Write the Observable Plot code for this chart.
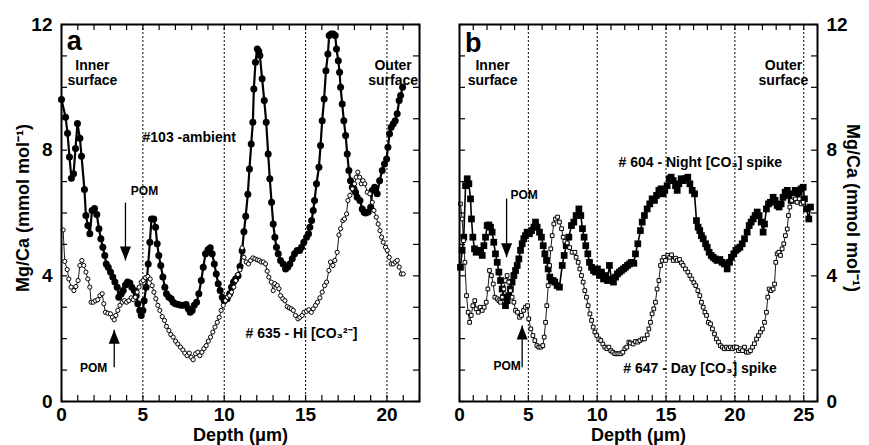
<!DOCTYPE html>
<html>
<head>
<meta charset="utf-8">
<script src="https://cdn.jsdelivr.net/npm/d3@7"></script>
<script src="https://cdn.jsdelivr.net/npm/@observablehq/plot@0.6"></script>
<style>
  html, body { margin: 0; padding: 0; background: #fff; }
  #chart { display: flex; width: 869px; height: 445px; }
</style>
</head>
<body>
<div id="chart"></div>
<script>
// ---------- Panel a: #103 ambient (filled circles) ----------
const depthA103 = [0.00,0.25,0.37,0.49,0.61,0.74,0.86,0.98,1.13,1.23,1.41,1.50,1.62,1.74,1.88,2.03,2.17,2.30,2.42,2.54,2.66,2.75,2.87,3.01,3.15,3.28,3.42,3.52,3.67,3.79,3.93,4.06,4.20,4.32,4.47,4.59,4.69,4.81,4.90,5.00,5.08,5.20,5.33,5.43,5.53,5.67,5.78,5.88,5.98,6.10,6.23,6.35,6.45,6.60,6.74,6.86,7.00,7.17,7.33,7.50,7.66,7.79,7.91,8.03,8.16,8.30,8.44,8.59,8.71,8.85,9.00,9.14,9.26,9.39,9.51,9.63,9.75,9.88,10.00,10.18,10.33,10.45,10.57,10.70,10.85,10.97,11.10,11.21,11.32,11.45,11.55,11.66,11.76,11.82,11.92,12.03,12.12,12.19,12.33,12.46,12.58,12.70,12.80,12.91,13.01,13.11,13.21,13.32,13.46,13.62,13.77,13.91,14.03,14.18,14.32,14.48,14.63,14.75,14.89,15.06,15.18,15.26,15.37,15.47,15.55,15.67,15.82,15.92,16.02,16.14,16.25,16.37,16.45,16.57,16.70,16.82,16.90,17.01,17.09,17.15,17.25,17.35,17.46,17.56,17.66,17.76,17.87,17.97,18.07,18.17,18.34,18.48,18.60,18.69,18.85,19.00,19.10,19.24,19.40,19.55,19.71,19.85,19.98,20.06,20.16,20.26,20.39,20.51,20.63,20.75,20.84,20.96];
const mgcaA103 = [9.61,9.05,8.54,7.78,7.11,7.25,8.05,8.85,8.38,7.81,6.75,5.92,5.60,5.34,6.08,6.14,5.95,5.50,5.18,4.91,4.65,4.38,4.27,4.12,3.96,3.80,3.64,3.32,3.43,3.53,3.71,3.80,3.77,3.64,3.53,3.37,3.11,2.90,2.74,2.90,3.21,3.64,4.38,5.07,5.81,5.81,5.55,5.02,4.65,4.33,3.96,3.64,3.43,3.32,3.27,3.16,3.11,3.09,3.06,3.06,3.09,2.95,2.84,2.90,3.06,3.16,3.43,3.85,4.27,4.70,4.83,4.89,4.70,4.38,4.06,3.75,3.53,3.32,3.21,3.27,3.43,3.64,3.80,3.90,4.00,4.30,4.80,5.40,5.90,6.60,7.40,8.20,8.89,9.95,10.80,11.22,11.15,11.01,10.27,9.58,8.89,7.88,7.09,6.34,5.65,5.23,4.91,4.70,4.49,4.38,4.22,4.28,4.38,4.54,4.70,4.81,4.81,4.91,5.07,5.23,5.34,5.55,5.76,6.08,6.40,6.93,7.46,8.15,8.94,9.63,10.53,11.06,11.65,11.70,11.70,11.65,11.22,10.85,10.48,10.00,9.47,8.94,8.47,7.88,7.35,7.03,6.82,6.77,6.66,6.50,6.40,6.13,6.02,6.00,6.03,6.18,6.72,6.82,6.61,7.03,7.35,7.56,7.72,8.09,8.52,8.73,8.84,8.94,9.16,9.58,9.74,10.00];

// ---------- Panel a: #635 Hi [CO3 2-] (open circles) ----------
const depthA635 = [0.10,0.20,0.35,0.45,0.59,0.76,0.88,1.02,1.13,1.25,1.37,1.50,1.62,1.74,1.82,1.95,2.09,2.23,2.36,2.50,2.60,2.70,2.85,3.01,3.13,3.24,3.34,3.46,3.59,3.73,3.87,4.00,4.14,4.28,4.41,4.53,4.65,4.77,4.90,5.02,5.16,5.31,5.45,5.57,5.68,5.80,5.92,6.04,6.19,6.33,6.45,6.60,6.72,6.86,7.01,7.15,7.31,7.46,7.58,7.72,7.85,7.97,8.09,8.24,8.38,8.50,8.63,8.75,8.89,9.02,9.16,9.30,9.43,9.57,9.69,9.81,9.94,10.08,10.20,10.33,10.45,10.59,10.71,10.84,10.96,11.10,11.21,11.35,11.49,11.62,11.76,11.89,12.03,12.15,12.27,12.40,12.54,12.64,12.74,12.89,13.01,13.11,13.26,13.36,13.46,13.60,13.73,13.87,14.00,14.12,14.24,14.38,14.53,14.65,14.79,14.91,15.06,15.20,15.35,15.47,15.61,15.73,15.88,16.02,16.17,16.29,16.43,16.53,16.68,16.80,16.94,17.05,17.15,17.29,17.39,17.52,17.60,17.72,17.87,18.01,18.11,18.21,18.32,18.42,18.52,18.64,18.79,18.95,19.10,19.20,19.34,19.46,19.57,19.67,19.77,19.91,20.02,20.14,20.26,20.39,20.51,20.63,20.75,20.88,21.00];
const mgcaA635 = [5.46,4.46,4.20,3.90,3.64,3.53,3.66,3.85,4.33,4.49,4.33,4.12,3.90,3.64,3.16,3.16,3.21,3.24,3.37,3.43,3.11,2.84,2.81,2.79,2.68,2.60,2.74,2.90,3.06,3.16,3.21,3.16,3.21,3.30,3.24,3.32,3.48,3.64,3.80,3.85,3.94,3.98,3.90,3.69,3.48,3.27,3.06,2.90,2.70,2.58,2.39,2.26,2.13,2.05,1.92,1.83,1.73,1.64,1.54,1.46,1.54,1.41,1.33,1.52,1.57,1.46,1.57,1.68,1.78,1.92,2.05,2.21,2.37,2.52,2.68,2.90,3.06,3.21,3.32,3.37,3.48,3.64,3.85,4.04,4.19,4.89,4.59,4.44,4.38,4.49,4.57,4.54,4.51,4.49,4.44,4.44,4.38,4.15,3.96,3.80,3.53,3.75,3.69,3.59,3.37,3.27,3.21,3.02,2.98,2.95,2.90,2.74,2.63,2.68,2.74,2.84,2.87,2.92,2.84,2.95,3.06,3.16,3.30,3.48,3.69,3.80,4.17,4.44,4.33,4.49,4.75,5.30,5.50,5.76,5.81,5.97,6.40,6.56,6.77,6.93,7.14,7.30,7.14,6.93,7.03,6.93,6.66,6.61,6.34,6.08,5.87,5.65,5.44,5.23,5.07,4.91,4.81,4.59,4.38,4.38,4.44,4.49,4.28,4.06,4.06];

// ---------- Panel b: #604 Night [CO3] spike (filled squares) ----------
const depthB604 = [0.07,0.19,0.31,0.44,0.56,0.68,0.80,0.87,0.97,1.09,1.21,1.36,1.52,1.65,1.77,1.89,2.01,2.13,2.25,2.37,2.49,2.61,2.74,2.86,2.98,3.10,3.22,3.34,3.46,3.58,3.70,3.82,3.95,4.07,4.19,4.31,4.43,4.55,4.67,4.79,4.91,5.08,5.23,5.40,5.52,5.64,5.81,5.95,6.08,6.20,6.32,6.44,6.56,6.68,6.80,6.92,7.09,7.26,7.46,7.60,7.75,7.94,8.13,8.30,8.47,8.67,8.81,8.93,9.05,9.17,9.32,9.44,9.59,9.73,9.88,10.02,10.17,10.31,10.46,10.60,10.75,10.89,11.04,11.18,11.33,11.47,11.62,11.76,11.91,12.05,12.20,12.35,12.49,12.66,12.78,12.95,13.14,13.27,13.43,13.63,13.82,13.99,14.16,14.31,14.48,14.64,14.79,14.91,15.08,15.23,15.37,15.52,15.69,15.81,15.93,16.10,16.24,16.41,16.58,16.73,16.90,17.07,17.21,17.33,17.45,17.57,17.70,17.87,17.99,18.13,18.28,18.42,18.57,18.71,18.91,19.07,19.24,19.44,19.61,19.75,19.92,20.07,20.21,20.36,20.53,20.70,20.89,21.04,21.18,21.33,21.47,21.62,21.76,21.91,22.05,22.15,22.29,22.44,22.58,22.78,22.92,23.07,23.21,23.36,23.50,23.65,23.80,23.94,24.09,24.23,24.38,24.52,24.67,24.81,24.96,25.05,25.20,25.37,25.49];
const mgcaB604 = [4.27,4.81,5.23,6.87,7.09,6.93,6.45,5.81,5.23,4.86,4.75,4.81,4.77,4.65,4.96,5.23,5.60,5.62,5.55,5.39,5.07,4.70,4.43,4.12,3.85,3.58,3.32,3.05,3.21,3.37,3.58,3.80,4.01,4.17,4.33,4.54,4.81,5.02,5.18,5.28,5.39,5.34,5.44,5.55,5.71,5.55,5.39,5.23,4.96,4.70,4.49,4.22,3.96,3.85,3.85,3.80,3.69,3.64,4.33,4.65,4.96,5.23,5.60,5.71,5.92,6.13,5.92,5.50,5.23,4.96,4.70,4.43,4.27,4.17,4.12,4.22,4.01,4.12,3.90,4.01,3.85,4.33,3.90,3.80,3.96,4.06,4.12,4.17,4.22,4.27,4.33,4.38,4.43,4.40,4.70,5.02,5.44,5.71,5.92,6.13,6.29,6.45,6.40,6.56,6.72,6.77,6.61,6.72,6.87,7.09,7.14,7.03,6.87,6.72,6.93,7.09,7.03,7.09,7.14,6.93,6.72,6.61,5.76,5.55,5.44,5.28,5.18,5.02,4.91,4.75,4.65,4.59,4.54,4.49,4.52,4.43,4.38,4.22,4.43,4.59,4.70,4.81,4.86,4.91,5.02,5.18,5.39,5.60,5.71,5.81,5.92,6.03,5.92,5.71,5.39,5.65,6.13,6.29,6.34,6.50,6.40,6.24,6.19,6.29,6.50,6.66,6.72,6.56,6.40,6.61,6.72,6.56,6.66,6.77,6.82,6.45,6.13,5.81,6.19];

// ---------- Panel b: #647 Day [CO3] spike (open squares) ----------
const depthB647 = [0.07,0.19,0.29,0.39,0.51,0.63,0.73,0.85,0.97,1.11,1.21,1.36,1.50,1.65,1.79,1.94,2.06,2.18,2.32,2.45,2.57,2.74,2.86,2.98,3.10,3.22,3.34,3.46,3.58,3.70,3.82,3.95,4.07,4.21,4.36,4.50,4.65,4.79,4.94,5.03,5.18,5.33,5.47,5.62,5.76,5.91,6.05,6.15,6.25,6.34,6.44,6.54,6.63,6.73,6.85,6.97,7.12,7.26,7.41,7.53,7.65,7.82,8.00,8.18,8.38,8.47,8.62,8.74,8.86,8.98,9.10,9.22,9.34,9.47,9.59,9.71,9.83,9.97,10.12,10.26,10.41,10.55,10.70,10.85,10.99,11.13,11.28,11.43,11.57,11.72,11.86,12.01,12.15,12.30,12.42,12.61,12.78,12.95,13.10,13.27,13.43,13.63,13.75,13.87,13.99,14.11,14.23,14.35,14.48,14.60,14.72,14.84,14.96,15.13,15.27,15.40,15.52,15.69,15.81,15.98,16.12,16.24,16.41,16.58,16.73,16.87,17.02,17.16,17.31,17.45,17.57,17.70,17.82,17.94,18.08,18.23,18.37,18.52,18.66,18.81,18.95,19.10,19.24,19.39,19.53,19.68,19.83,19.97,20.12,20.26,20.41,20.55,20.70,20.84,20.99,21.13,21.28,21.42,21.57,21.71,21.86,22.00,22.15,22.29,22.39,22.49,22.63,22.78,22.88,22.97,23.07,23.19,23.31,23.43,23.55,23.67,23.80,23.89,23.99,24.13,24.28,24.40,24.52,24.67,24.81,24.96];
const mgcaB647 = [6.29,5.81,5.12,4.43,3.37,2.84,2.52,2.74,3.05,3.21,2.95,2.84,3.00,2.90,3.00,3.16,3.58,4.17,4.01,3.74,3.32,3.27,3.21,3.16,3.32,3.58,3.85,4.01,3.80,3.53,3.32,3.16,2.90,2.84,2.68,2.74,2.90,3.00,3.05,2.63,2.31,2.10,1.94,1.78,1.73,1.73,1.78,2.05,2.52,3.05,3.69,4.33,4.86,5.28,5.65,5.81,5.87,5.71,5.50,5.23,5.10,5.05,4.90,4.75,4.75,4.59,4.43,4.22,4.01,3.80,3.53,3.32,3.05,2.79,2.58,2.37,2.21,2.10,1.99,1.94,1.83,1.73,1.68,1.73,1.62,1.57,1.52,1.52,1.52,1.52,1.57,1.68,1.73,1.89,1.86,1.83,1.91,1.89,1.94,1.99,1.99,2.12,2.31,2.52,2.79,2.95,3.16,3.58,3.85,4.33,4.49,4.59,4.49,4.65,4.59,4.67,4.49,4.56,4.49,4.52,4.41,4.33,4.22,4.12,4.01,3.90,3.78,3.69,3.53,3.37,3.16,3.00,2.84,2.74,2.52,2.47,2.31,2.15,1.99,1.89,1.78,1.73,1.68,1.73,1.68,1.73,1.68,1.73,1.73,1.62,1.68,1.62,1.73,1.57,1.57,1.62,1.73,1.84,1.99,2.10,2.21,2.31,2.52,2.84,3.32,3.58,3.53,3.58,3.74,4.43,4.70,4.75,4.65,4.86,5.02,5.28,5.49,5.92,6.19,6.40,6.50,6.45,6.34,6.45,6.29,6.34];

// ---------- Axes / ticks ----------
const yTickLabels = [0, 4, 8, 12];
const xTickLabelsA = [0, 5, 10, 15, 20];
const xTickLabelsB = [0, 5, 10, 15, 20, 25];
const dashedA = [5, 10, 15, 20];
const dashedB = [5, 10, 15, 20, 25];
const minorXA = d3.range(0, 23);
const minorXB = d3.range(0, 27);
const minorY = d3.range(0, 13);

const rows = (xs, ys) => xs.map((x, i) => ({depth: x, mgca: ys[i]}));

const FONT = "'Liberation Sans', Arial, Helvetica, sans-serif";
const H = 445, MT = 24, MB = 44;
const innerH = H - MT - MB;   // 377
const innerW = 358;
const TL = 6;                 // tick length px

function arrowHead(dir) {
  // tip at origin; dir = 1 -> points up, -1 -> points down
  return {
    draw(ctx, size) {
      const r = Math.sqrt(size / Math.PI);
      ctx.moveTo(0, 0);
      ctx.lineTo(1.1 * r, dir * 2.8 * r);
      ctx.lineTo(-1.1 * r, dir * 2.8 * r);
      ctx.closePath();
    }
  };
}

function arrow(x, yFrom, yTip, dir) {
  return [
    Plot.link([0], {x1: x, x2: x, y1: yFrom, y2: yTip, stroke: "black", strokeWidth: 1.3}),
    Plot.dot([0], {x: x, y: yTip, r: 5, symbol: arrowHead(dir), fill: "black"})
  ];
}

const bold = {fontWeight: "bold", fill: "black"};

function commonMarks(minorX, dashed, xTicks, yAnchor) {
  return [
    Plot.ruleX(dashed, {stroke: "black", strokeWidth: 1, strokeDasharray: "2,2"}),
    Plot.tickX(minorX, {x: d => d, insetTop: innerH - TL, stroke: "black", strokeWidth: 1.2}),
    Plot.tickX(minorX, {x: d => d, insetBottom: innerH - TL, stroke: "black", strokeWidth: 1.2}),
    Plot.tickY(minorY, {y: d => d, insetRight: innerW - TL, stroke: "black", strokeWidth: 1.2}),
    Plot.tickY(minorY, {y: d => d, insetLeft: innerW - TL, stroke: "black", strokeWidth: 1.2}),
    Plot.axisX(xTicks, {tickSize: 0, tickPadding: 6, fontSize: 19, ...bold, label: null}),
    Plot.axisY(yTickLabels, {anchor: yAnchor, tickSize: 0, tickPadding: 9, fontSize: 19, ...bold, label: null}),
    Plot.text(["Depth (μm)"], {text: d => d, frameAnchor: "bottom", lineAnchor: "middle", textAnchor: "middle", dy: 34, fontSize: 18, ...bold})
  ];
}

// ---------- Panel a ----------
const plotA = Plot.plot({
  width: 434, height: H,
  marginLeft: 61, marginRight: 15, marginTop: MT, marginBottom: MB,
  x: {domain: [0, 22]},
  y: {domain: [0, 12]},
  style: {fontFamily: FONT, background: "white", overflow: "visible"},
  marks: [
    ...commonMarks(minorXA, dashedA, xTickLabelsA, "left"),
    Plot.line(rows(depthA103, mgcaA103), {x: "depth", y: "mgca", stroke: "black", strokeWidth: 2.2}),
    Plot.dot(rows(depthA103, mgcaA103), {x: "depth", y: "mgca", r: 3.5, fill: "black"}),
    Plot.line(rows(depthA635, mgcaA635), {x: "depth", y: "mgca", stroke: "black", strokeWidth: 0.9}),
    Plot.dot(rows(depthA635, mgcaA635), {x: "depth", y: "mgca", r: 2.1, fill: "white", stroke: "black", strokeWidth: 1}),
    Plot.text(["a"], {text: d => d, x: 0.33, y: 11.46, textAnchor: "start", fontSize: 27, ...bold}),
    Plot.text(["Inner\nsurface"], {text: d => d, x: 1.9, y: 10.47, lineHeight: 1.07, fontSize: 14, ...bold}),
    Plot.text(["Outer\nsurface"], {text: d => d, x: 20.38, y: 10.47, lineHeight: 1.07, fontSize: 14, ...bold}),
    Plot.text(["#103 -ambient"], {text: d => d, x: 4.98, y: 8.41, textAnchor: "start", fontSize: 14, ...bold}),
    Plot.text(["POM"], {text: d => d, x: 4.26, y: 6.68, textAnchor: "start", fontSize: 12, ...bold}),
    Plot.text(["POM"], {text: d => d, x: 1.97, y: 1.05, fontSize: 12, ...bold}),
    Plot.text(["# 635 - Hi [CO₃²⁻]"], {text: d => d, x: 11.31, y: 2.16, textAnchor: "start", fontSize: 14, ...bold}),
    ...arrow(3.93, 6.33, 4.49, -1),
    ...arrow(3.24, 1.09, 2.28, 1),
    Plot.text(["Mg/Ca (mmol mol⁻¹)"], {text: d => d, frameAnchor: "left", textAnchor: "middle", lineAnchor: "middle", rotate: -90, dx: -38, dy: -5, fontSize: 18, ...bold}),
    Plot.frame({stroke: "black", strokeWidth: 2})
  ]
});

// ---------- Panel b ----------
const plotB = Plot.plot({
  width: 435, height: H,
  marginLeft: 25, marginRight: 52, marginTop: MT, marginBottom: MB,
  x: {domain: [0, 26]},
  y: {domain: [0, 12]},
  style: {fontFamily: FONT, background: "white", overflow: "visible"},
  marks: [
    ...commonMarks(minorXB, dashedB, xTickLabelsB, "right"),
    Plot.line(rows(depthB604, mgcaB604), {x: "depth", y: "mgca", stroke: "black", strokeWidth: 1.6}),
    Plot.dot(rows(depthB604, mgcaB604), {x: "depth", y: "mgca", r: 3.8, symbol: "square", fill: "black"}),
    Plot.line(rows(depthB647, mgcaB647), {x: "depth", y: "mgca", stroke: "black", strokeWidth: 0.9}),
    Plot.dot(rows(depthB647, mgcaB647), {x: "depth", y: "mgca", r: 2.1, symbol: "square", fill: "white", stroke: "black", strokeWidth: 1}),
    Plot.text(["b"], {text: d => d, x: 0.4, y: 11.39, textAnchor: "start", fontSize: 27, ...bold}),
    Plot.text(["Inner\nsurface"], {text: d => d, x: 2.4, y: 10.47, lineHeight: 1.07, fontSize: 14, ...bold}),
    Plot.text(["Outer\nsurface"], {text: d => d, x: 23.53, y: 10.47, lineHeight: 1.07, fontSize: 14, ...bold}),
    Plot.text(["# 604 - Night [CO₃] spike"], {text: d => d, x: 11.55, y: 7.6, textAnchor: "start", fontSize: 14, ...bold}),
    Plot.text(["POM"], {text: d => d, x: 3.7, y: 6.56, textAnchor: "start", fontSize: 12, ...bold}),
    Plot.text(["POM"], {text: d => d, x: 3.46, y: 1.11, fontSize: 12, ...bold}),
    Plot.text(["# 647 - Day [CO₃] spike"], {text: d => d, x: 11.89, y: 1.05, textAnchor: "start", fontSize: 14, ...bold}),
    ...arrow(3.42, 6.46, 4.59, -1),
    ...arrow(4.55, 1.09, 2.42, 1),
    Plot.text(["Mg/Ca (mmol mol⁻¹)"], {text: d => d, frameAnchor: "right", textAnchor: "middle", lineAnchor: "middle", rotate: 90, dx: 35, dy: -5, fontSize: 18, ...bold}),
    Plot.frame({stroke: "black", strokeWidth: 2})
  ]
});

document.getElementById("chart").append(plotA, plotB);
</script>
</body>
</html>
